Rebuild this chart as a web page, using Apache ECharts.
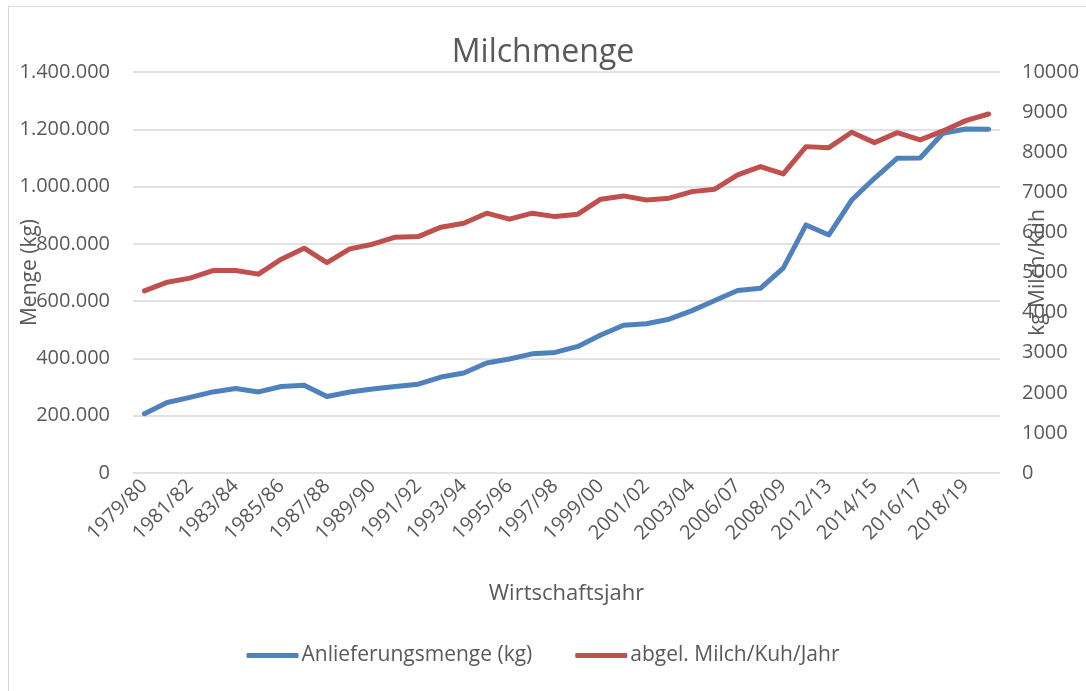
<!DOCTYPE html>
<html>
<head>
<meta charset="utf-8">
<script src="https://cdn.jsdelivr.net/npm/echarts@6/dist/echarts.min.js"></script>
<style>
  html, body { margin: 0; padding: 0; background: #fff; }
  #frame { position: absolute; left: 8px; top: 6px; width: 1100px; height: 700px; border: 1px solid #d9d9d9; box-sizing: border-box; }
  #chart { position: absolute; left: 0; top: 0; width: 1086px; height: 691px; }
</style>
</head>
<body>
<div id="frame"></div>
<div id="chart"></div>
<script>
// Wirtschaftsjahre (two years are missing in the source table)
const years = ['1979/80', '1980/81', '1981/82', '1982/83', '1983/84', '1984/85', '1985/86', '1986/87',
  '1987/88', '1988/89', '1989/90', '1990/91', '1991/92', '1992/93', '1993/94', '1994/95', '1995/96',
  '1996/97', '1997/98', '1998/99', '1999/00', '2000/01', '2001/02', '2002/03', '2003/04', '2004/05',
  '2006/07', '2007/08', '2008/09', '2009/10', '2012/13', '2013/14', '2014/15', '2015/16', '2016/17',
  '2017/18', '2018/19', '2019/20'];

// Anlieferungsmenge (kg), left axis
const delivery = [207000, 246000, 264000, 283000, 295000, 283000, 302000, 306000, 267000, 283000,
  293000, 302000, 310000, 335000, 349000, 384000, 398000, 416000, 421000, 442000,
  482000, 516000, 521000, 537000, 567000, 602000, 637000, 645000, 715000, 866000,
  831000, 953000, 1029000, 1099000, 1100000, 1186000, 1201000, 1200000];

// abgel. Milch/Kuh/Jahr, right axis
const perCow = [4543, 4759, 4859, 5049, 5049, 4959, 5333, 5607, 5248, 5589,
  5706, 5881, 5896, 6130, 6230, 6479, 6329, 6479, 6394, 6454,
  6828, 6910, 6810, 6853, 7017, 7077, 7433, 7641, 7458, 8139,
  8114, 8497, 8239, 8488, 8306, 8530, 8787, 8953];

const grey = '#595959';
const font = "'Open Sans', sans-serif";

function dotted(v) {
  return String(v).replace(/\B(?=(\d{3})+(?!\d))/g, '.');
}

const chart = echarts.init(document.getElementById('chart'));
chart.setOption({
  animation: false,
  textStyle: { fontFamily: font, color: grey },
  title: {
    text: 'Milchmenge',
    left: 'center',
    top: 32,
    textStyle: { fontFamily: font, fontSize: 32, fontWeight: 'normal', color: grey }
  },
  legend: {
    bottom: 20,
    left: 'center',
    itemWidth: 52,
    itemHeight: 5,
    itemGap: 43,
    icon: 'roundRect',
    textStyle: { fontFamily: font, fontSize: 21, color: grey, padding: [0, 0, 0, -2] },
    data: ['Anlieferungsmenge (kg)', 'abgel. Milch/Kuh/Jahr']
  },
  grid: { left: 133, right: 86, top: 72, bottom: 218, outerBoundsMode: 'none' },
  xAxis: {
    type: 'category',
    data: years,
    boundaryGap: true,
    name: 'Wirtschaftsjahr',
    nameLocation: 'middle',
    nameGap: 110,
    nameMoveOverlap: false,
    nameTextStyle: { fontFamily: font, fontSize: 22, color: grey },
    axisLine: { show: false },
    axisTick: { show: false },
    axisLabel: { interval: 1, rotate: 45, fontFamily: font, fontSize: 20, color: grey, margin: 10 }
  },
  yAxis: [{
    type: 'value',
    min: 0,
    max: 1400000,
    interval: 200000,
    name: 'Menge (kg)',
    nameLocation: 'middle',
    nameRotate: 90,
    nameGap: 92,
    nameMoveOverlap: false,
    nameTextStyle: { fontFamily: font, fontSize: 21, color: grey },
    axisLine: { show: false },
    axisTick: { show: false },
    axisLabel: { fontFamily: font, fontSize: 20, color: grey, margin: 23, formatter: dotted },
    splitLine: { lineStyle: { color: '#d9d9d9', width: 1.5 } }
  }, {
    type: 'value',
    min: 0,
    max: 10000,
    interval: 1000,
    name: 'kg Milch/Kuh',
    nameLocation: 'middle',
    nameRotate: 90,
    nameGap: 28,
    nameMoveOverlap: false,
    nameTextStyle: { fontFamily: font, fontSize: 21, color: grey },
    axisLine: { show: false },
    axisTick: { show: false },
    axisLabel: { fontFamily: font, fontSize: 20, color: grey, margin: 22, formatter: (v) => String(v) },
    splitLine: { show: false }
  }],
  series: [{
    name: 'Anlieferungsmenge (kg)',
    type: 'line',
    yAxisIndex: 0,
    data: delivery,
    symbol: 'none',
    color: '#4f81bd',
    lineStyle: { width: 5, color: '#4f81bd', cap: 'round', join: 'round' }
  }, {
    name: 'abgel. Milch/Kuh/Jahr',
    type: 'line',
    yAxisIndex: 1,
    data: perCow,
    symbol: 'none',
    color: '#c0504d',
    lineStyle: { width: 5, color: '#c0504d', cap: 'round', join: 'round' }
  }]
});
</script>
</body>
</html>
